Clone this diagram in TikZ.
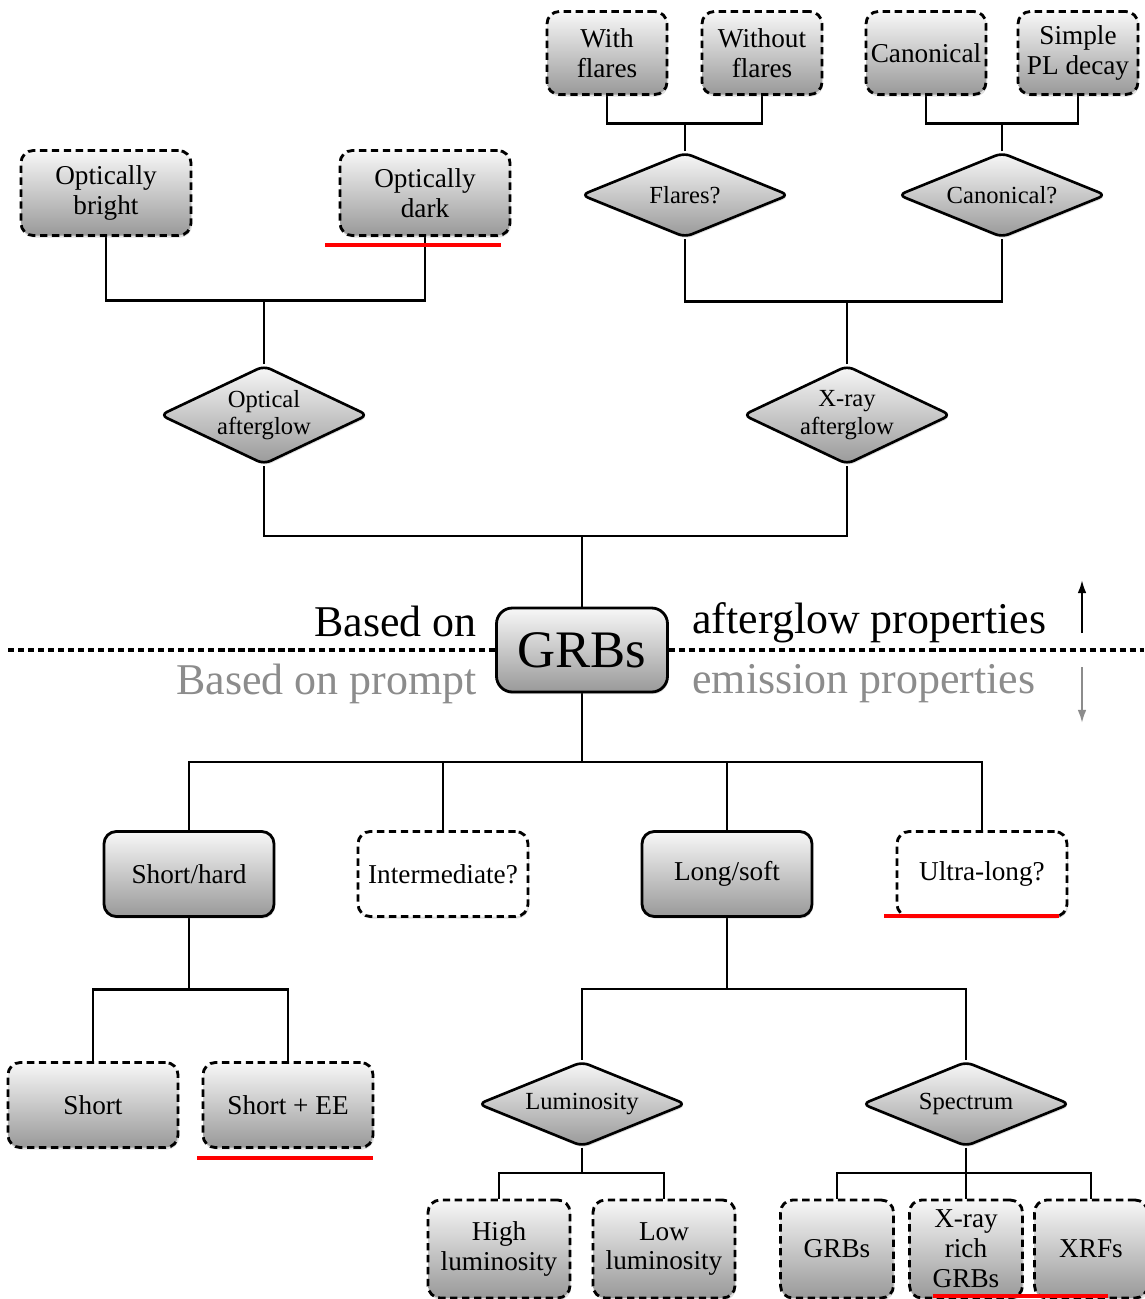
\documentclass[tikz,border=0pt]{standalone}
\usepackage{fontspec}
\setmainfont{Liberation Serif}
\usetikzlibrary{positioning, arrows.meta, shapes.geometric, shadows, calc, backgrounds}
\tikzset{%
  ln/.style={line width=1.4pt},
  tr/.style={ln, to path={(\tikztostart) |- ($(\tikztostart)!.5!(\tikztotarget)$) -| (\tikztotarget)}},
  sd/.style={top color=black!3, bottom color=black!40, drop shadow={opacity=.25, shadow xshift=.6pt, shadow yshift=-1.2pt}},
  bx/.style={draw, line width=1.6pt, rounded corners=7pt, sd, align=center, inner sep=1pt, minimum width=34mm, minimum height=17mm, font=\fontsize{15.5}{17}\selectfont},
  db/.style={bx, dash pattern=on 4.2pt off 2.6pt},
  wb/.style={db, top color=white, bottom color=white},
  sm/.style={minimum width=24mm, minimum height=16.6mm},
  lo/.style={minimum width=28.4mm, minimum height=19.6mm},
  nar/.style={minimum width=22.6mm, minimum height=19.6mm},
  dm/.style={diamond, aspect=2.4, draw, line width=1.5pt, rounded corners=4pt, sd, align=center, inner sep=0pt, minimum width=41.6mm, minimum height=17mm, font=\fontsize{14}{15.5}\selectfont},
  tl/.style={aspect=2.1, minimum height=19.8mm},
  gs/.style={bx, rounded corners=9pt, minimum width=34.2mm, minimum height=16.8mm, font=\fontsize{30}{32}\selectfont},
  hd/.style={font=\fontsize{25}{28}\selectfont, inner sep=0pt},
  hg/.style={hd, text=black!45},
  dl/.style={line width=1.8pt, dash pattern=on 3.5pt off 2.2pt},
  ua/.style={line width=1.2pt, -{Latex[length=7.5pt, width=5pt]}},
  rb/.style={red, line width=2.8pt}
}

\begin{document}
\begin{tikzpicture}[x=0.2mm, y=-0.2mm]
  \useasboundingbox (0,0) rectangle (1144,1299);
  % afterglow side
  \node[db, sm] (wf) at (607,53)  {With\\flares};
  \node[db, sm] (wo) at (762,53)  {Without\\flares};
  \node[db, sm] (cn) at (926,53)  {Canonical};
  \node[db, sm] (pl) at (1078,53) {Simple\\PL decay};
  \node[dm] (fl) at (685,195)  {Flares?};
  \node[dm] (cq) at (1002,195) {Canonical?};
  \node[db] (ob) at (106,193) {Optically\\bright};
  \node[db] (od) at (425,193) {Optically\\dark};
  \node[dm, tl] (oa) at (264,415) {Optical\\afterglow};
  \node[dm, tl] (xa) at (847,415) {X-ray\\afterglow};
  \node[gs] (grb) at (582,650) {GRBs};
  % prompt side
  \node[bx] (sh) at (189,874) {Short/hard};
  \node[wb] (im) at (443,874) {Intermediate?};
  \node[bx] (ls) at (727,874) {Long/soft};
  \node[wb] (ul) at (982,874) {Ultra-long?};
  \node[db] (st) at (93,1105)  {Short};
  \node[db] (se) at (288,1105) {Short + EE};
  \node[dm] (lu) at (582,1104) {Luminosity};
  \node[dm] (sp) at (966,1104) {Spectrum};
  \node[db, lo]  (hl) at (499,1249)  {High\\luminosity};
  \node[db, lo]  (ll) at (664,1249)  {Low\\luminosity};
  \node[db, nar] (gb) at (837,1249)  {GRBs};
  \node[db, nar] (xr) at (966,1249)  {X-ray\\rich\\GRBs};
  \node[db, nar] (xf) at (1091,1249) {XRFs};
  % labels
  \node[hd, anchor=base east] (bo) at (477,636) {Based on};
  \node[hd, anchor=base west] (ap) at (692,633) {afterglow properties};
  \node[hg, anchor=base east] (bp) at (477,694) {Based on prompt};
  \node[hg, anchor=base west] (ep) at (692,693) {emission properties};
  \coordinate (sl) at (8,650);
  \coordinate (sr) at (1144,650);
  \draw[dl] (sl) -- (grb.west);
  \draw[dl] (grb.east) -- (sr);
  \coordinate (a0) at (1082,633);
  \coordinate (a1) at (1082,580);
  \coordinate (b0) at (1082,667);
  \coordinate (b1) at (1082,723);
  \draw[ua] (a0) -- (a1);
  \draw[ua, black!45] (b0) -- (b1);
  % red bars
  \draw[rb] (325,245) -- (501,245);
  \draw[rb] (884,916) -- (1059,916);
  \draw[rb] (197,1158) -- (373,1158);
  \draw[rb] (933,1296) -- (1108,1296);
  \begin{scope}[on background layer]
    \fill[white] (0,0) rectangle (1144,1299);
    \path[tr]
    (fl.north) edge (wf.south)
    (fl.north) edge (wo.south)
    (cq.north) edge (cn.south)
    (cq.north) edge (pl.south)
    (xa.north) edge (fl.south)
    (xa.north) edge (cq.south)
    (oa.north) edge (ob.south)
    (oa.north) edge (od.south)
    (grb.north) edge (oa.south)
    (grb.north) edge (xa.south)
    (grb.south) edge (sh.north)
    (grb.south) edge (im.north)
    (grb.south) edge (ls.north)
    (grb.south) edge (ul.north)
    (sh.south) edge (st.north)
    (sh.south) edge (se.north)
    (ls.south) edge (lu.north)
    (ls.south) edge (sp.north)
    (lu.south) edge (hl.north)
    (lu.south) edge (ll.north)
    (sp.south) edge (gb.north)
    (sp.south) edge (xr.north)
    (sp.south) edge (xf.north);
  \end{scope}
\end{tikzpicture}
\end{document}
